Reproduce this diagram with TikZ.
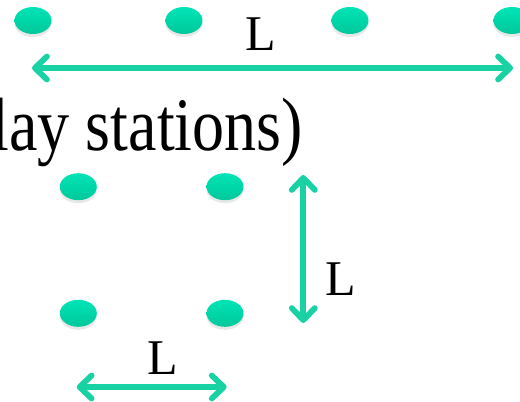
\documentclass[tikz,border=0pt]{standalone}
\usepackage{fontspec}
\setmainfont{Liberation Serif}
\usepackage{tikz}
\usetikzlibrary{arrows.meta,shapes.geometric,shadows}
\definecolor{stationtop}{HTML}{00E4B6}
\definecolor{stationbot}{HTML}{00C89B}
\definecolor{spancol}{HTML}{19D2A4}

\begin{document}
\begin{tikzpicture}[x=1pt, y=-1pt,
  station/.style={ellipse, minimum width=37pt, minimum height=27pt, inner sep=0pt,
    top color=stationtop, bottom color=stationbot, draw=none,
    drop shadow={opacity=0.18, shadow xshift=0pt, shadow yshift=-3pt}},
  span/.style={{Straight Barb[length=12pt, width=23pt, round]}-{Straight Barb[length=12pt, width=23pt, round]},
    line width=5.8pt, spancol},
  lbl/.style={font=\fontsize{50}{60}\selectfont, inner sep=0pt, anchor=base}
]
  \useasboundingbox (0, 0) rectangle (520, 402);
  % stations along the line
  \node[station] (t1) at (33, 20.5) {};
  \node[station] (t2) at (184, 20.5) {};
  \node[station] (t3) at (350, 20.5) {};
  \node[station] (t4) at (512, 20.5) {};
  \coordinate (topL) at (32, 68);
  \coordinate (topR) at (513, 68);
  \draw[span] (topL) -- (topR);
  \node[lbl] (ltop) at (260.7, 50) {L};
  \node[font=\fontsize{64}{70}\selectfont, inner sep=0pt, anchor=base east] (caption) at (303, 150)
    {\scalebox{1}[1.18]{lay stations)}};
  % stations on the grid
  \node[station] (g11) at (78.3, 186.7) {};
  \node[station] (g12) at (225, 186.7) {};
  \node[station] (g21) at (78.3, 313.3) {};
  \node[station] (g22) at (225, 313.3) {};
  \coordinate (vtop) at (303.3, 175);
  \coordinate (vbot) at (303.3, 323);
  \draw[span] (vtop) -- (vbot);
  \node[lbl] (lvert) at (340.5, 295) {L};
  \coordinate (hleft) at (76.7, 387);
  \coordinate (hright) at (226.7, 387);
  \draw[span] (hleft) -- (hright);
  \node[lbl] (lhor) at (163, 374) {L};
\end{tikzpicture}
\end{document}
